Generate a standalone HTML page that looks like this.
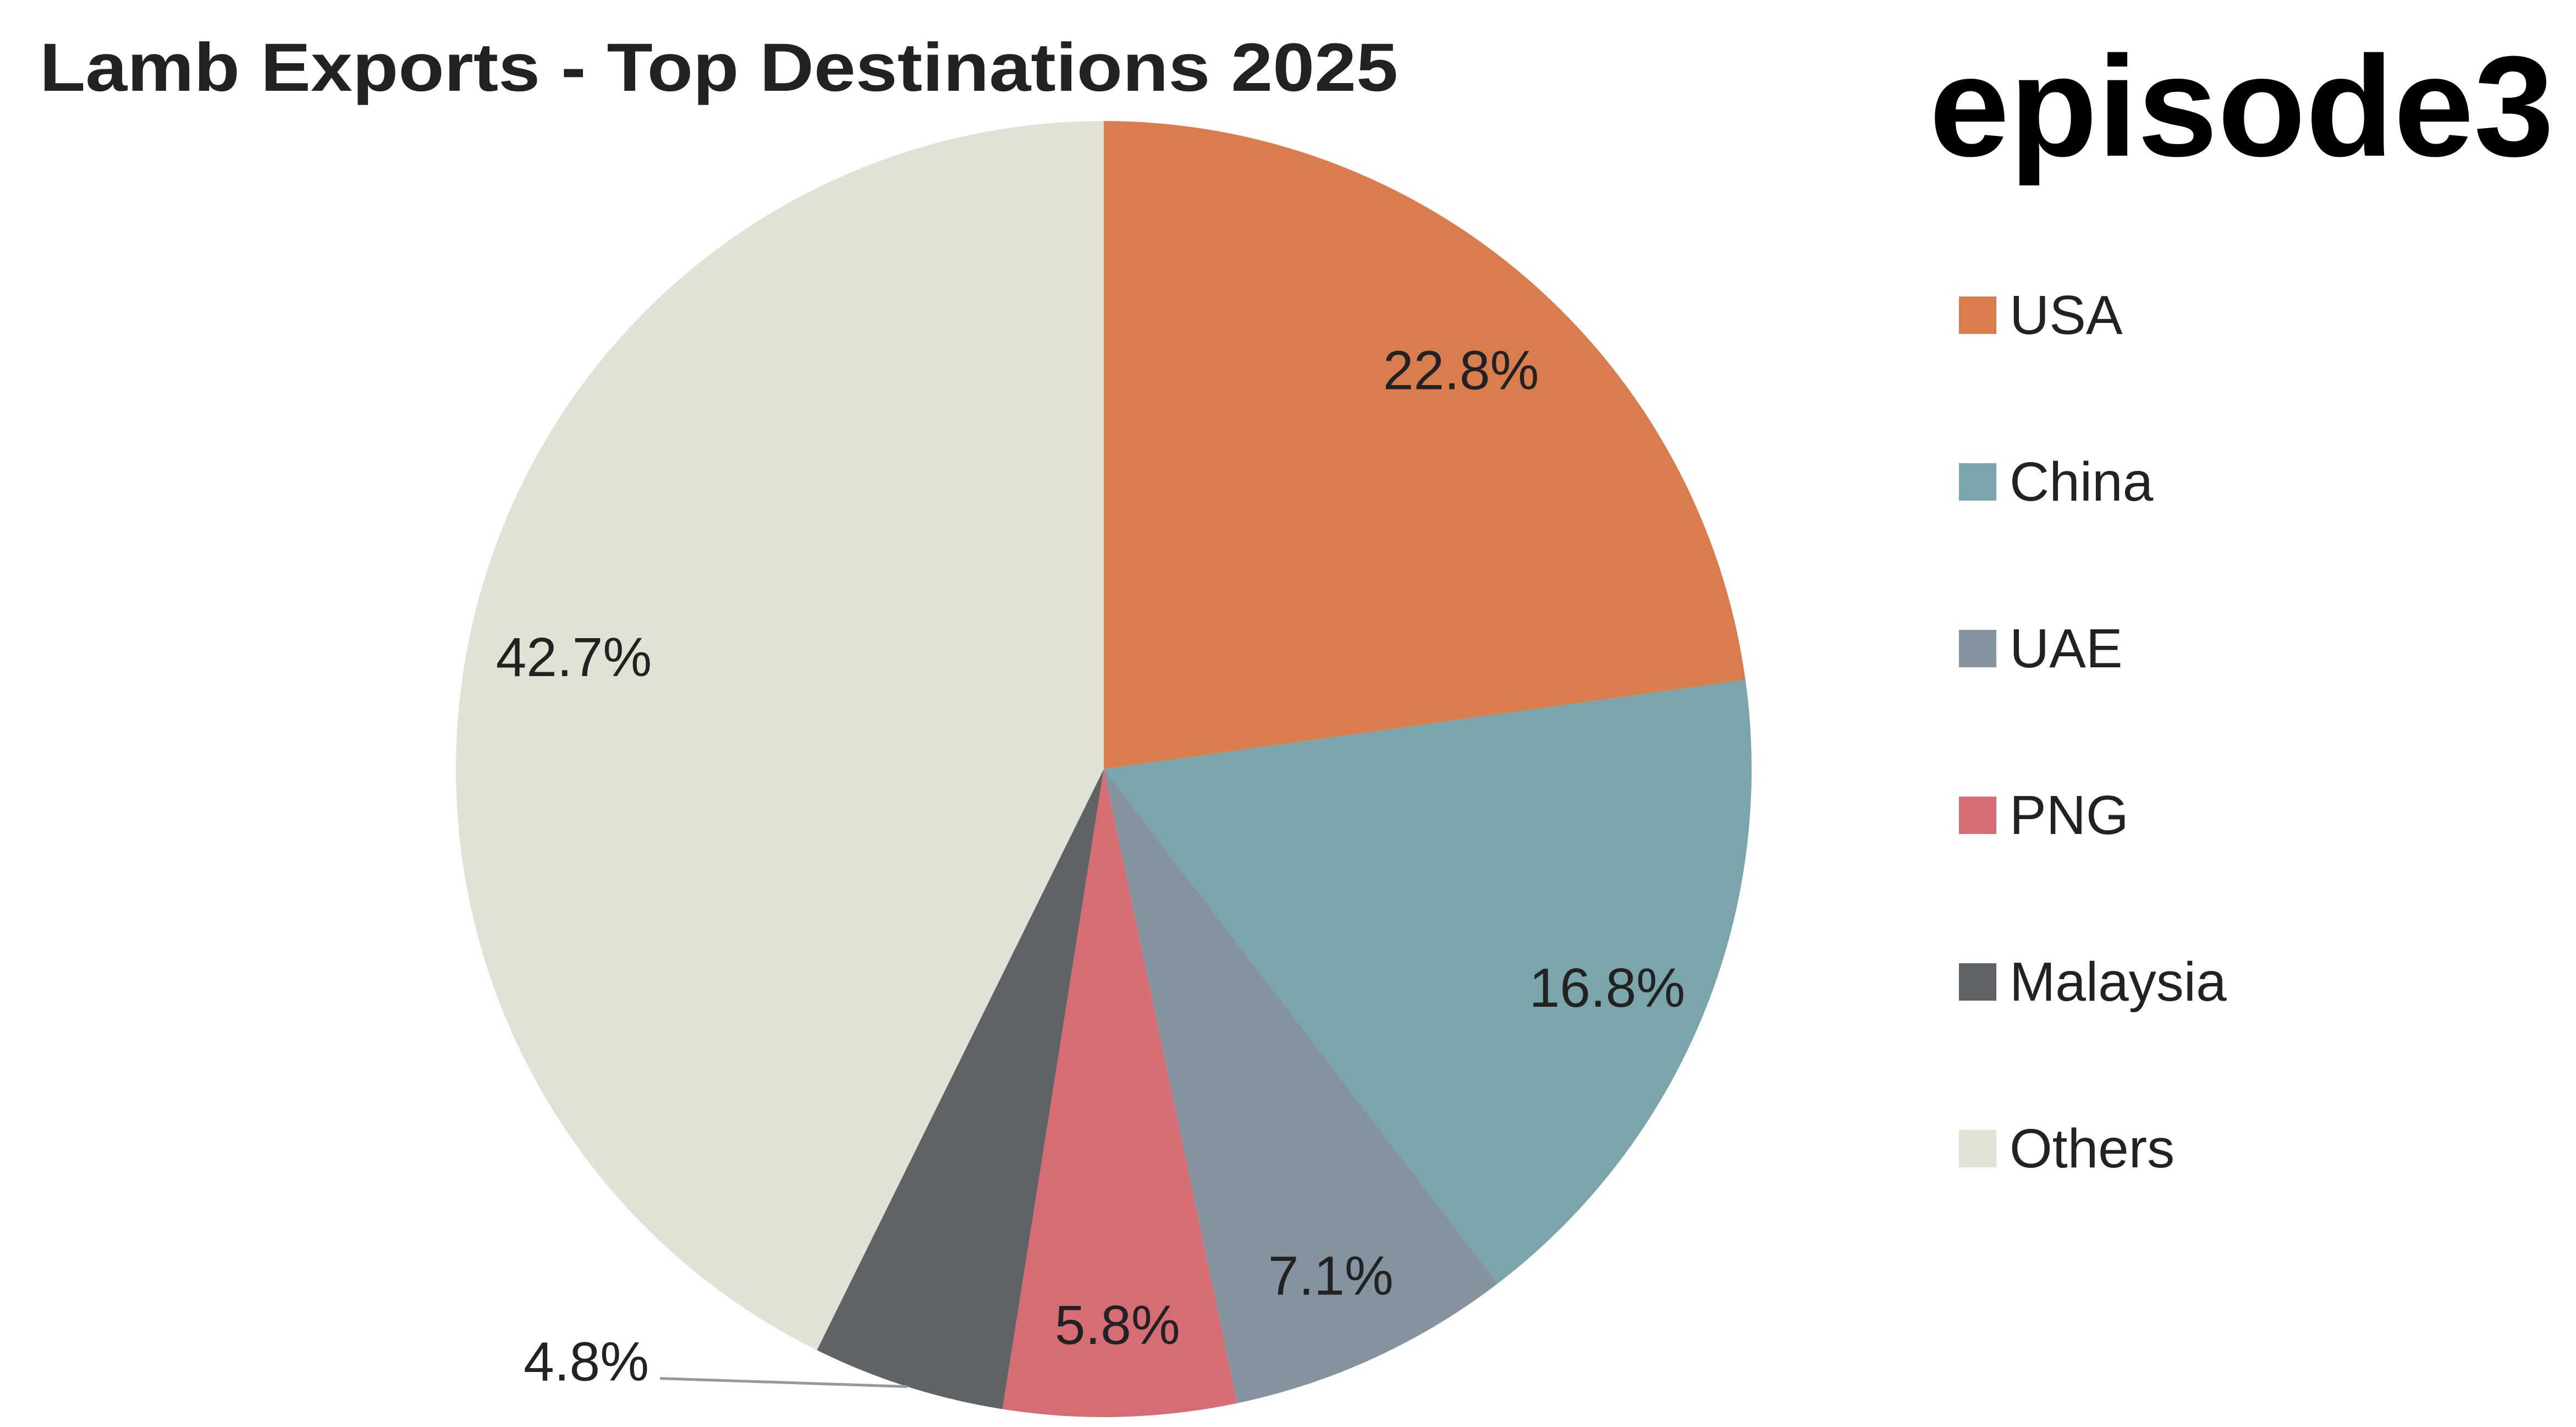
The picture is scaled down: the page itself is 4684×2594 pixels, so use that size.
<!DOCTYPE html>
<html><head><meta charset="utf-8">
<style>
html,body{margin:0;padding:0;background:#fff;}
svg{display:block;}
text{font-family:"Liberation Sans",sans-serif;}
</style></head>
<body>
<svg id="chart" width="4684" height="2594" viewBox="0 0 4684 2594" xmlns="http://www.w3.org/2000/svg">
  <rect width="4684" height="2594" fill="#ffffff"/>
  <text x="72" y="165" font-size="124" font-weight="bold" fill="#222" textLength="2470" lengthAdjust="spacingAndGlyphs">Lamb Exports - Top Destinations 2025</text>
  <text x="3508" y="283" font-size="260" font-weight="bold" fill="#000" textLength="1136" lengthAdjust="spacingAndGlyphs">episode3</text>
  <g id="slices"></g>
  <g id="labels"></g>
  <g id="legend"></g>
</svg>
<script>
const categories = ["USA","China","UAE","PNG","Malaysia","Others"];
const values = [22.8,16.8,7.1,5.8,4.8,42.7];
const valueLabels = ["22.8%","16.8%","7.1%","5.8%","4.8%","42.7%"];
const colors = ["#D97D4E","#7AA5AB","#84939E","#D66D75","#5F6366","#E1E1D6"];

const NS = "http://www.w3.org/2000/svg";
const cx = 2007, cy = 1398, r = 1178, lr = 0.84 * r;
const total = values.reduce((a,b)=>a+b,0);
function pt(ang, rad){ return [cx + rad*Math.sin(ang), cy - rad*Math.cos(ang)]; }
const gS = document.getElementById('slices');
const gL = document.getElementById('labels');
const gG = document.getElementById('legend');
let acc = 0;
values.forEach((v,i)=>{
  const a0 = acc/total*2*Math.PI; acc += v;
  const a1 = acc/total*2*Math.PI;
  const p0 = pt(a0,r), p1 = pt(a1,r);
  const large = (a1-a0) > Math.PI ? 1 : 0;
  const path = document.createElementNS(NS,'path');
  path.setAttribute('d', `M${cx},${cy} L${p0[0]},${p0[1]} A${r},${r} 0 ${large} 1 ${p1[0]},${p1[1]} Z`);
  path.setAttribute('fill', colors[i]);
  
  
  gS.appendChild(path);

  const mid = (a0+a1)/2;
  const t = document.createElementNS(NS,'text');
  t.setAttribute('font-size','100');
  t.setAttribute('fill','#222');
  t.setAttribute('dominant-baseline','central');
  if (v < 5) {
    const e = pt(mid, r);
    const tx = e[0] - 470, ty = e[1] - 45;
    const ln = document.createElementNS(NS,'line');
    ln.setAttribute('x1', tx + 20); ln.setAttribute('y1', ty + 30);
    ln.setAttribute('x2', e[0]); ln.setAttribute('y2', e[1]);
    ln.setAttribute('stroke','#999'); ln.setAttribute('stroke-width','5');
    
    
    gL.appendChild(ln);
    t.setAttribute('x', tx); t.setAttribute('y', ty);
    t.setAttribute('text-anchor','end');
  } else {
    const p = pt(mid, lr);
    t.setAttribute('x', p[0]); t.setAttribute('y', p[1] + 22);
    t.setAttribute('text-anchor','middle');
  }
  t.textContent = valueLabels[i];
  
  
  gL.appendChild(t);

  const ly = 573 + i*303;
  const sq = document.createElementNS(NS,'rect');
  sq.setAttribute('x', 3562); sq.setAttribute('y', ly - 34);
  sq.setAttribute('width', 68); sq.setAttribute('height', 68);
  sq.setAttribute('fill', colors[i]);
  
  
  gG.appendChild(sq);
  const lt = document.createElementNS(NS,'text');
  lt.setAttribute('x', 3654); lt.setAttribute('y', ly);
  lt.setAttribute('font-size','100');
  lt.setAttribute('fill','#222');
  lt.setAttribute('dominant-baseline','central');
  lt.textContent = categories[i];
  
  
  gG.appendChild(lt);
});
</script>
</body></html>
